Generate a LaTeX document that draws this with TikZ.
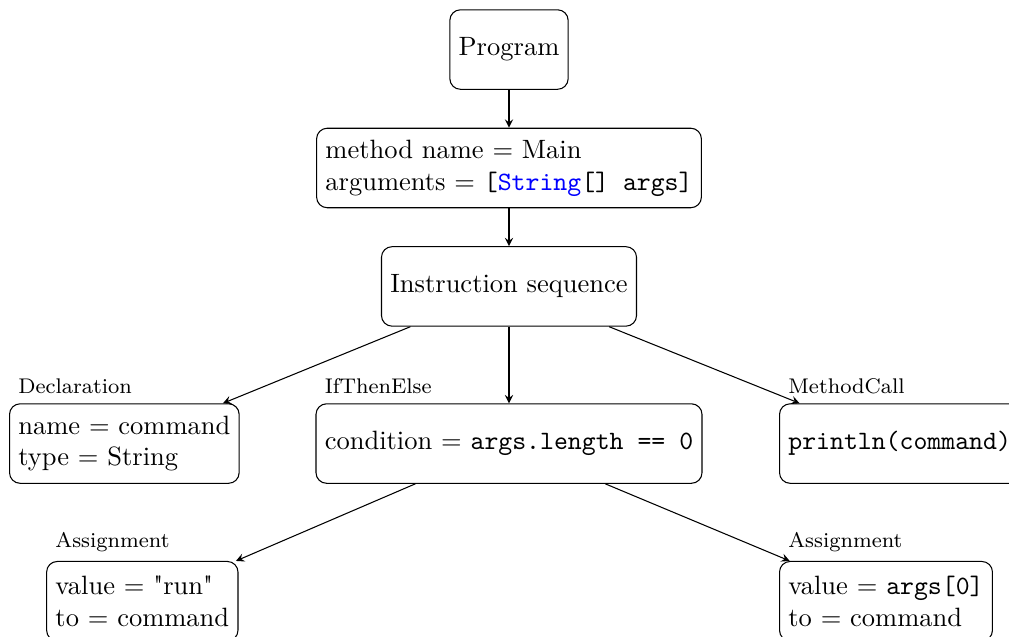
\documentclass[tikz,border=0pt]{standalone}
\usepackage{xcolor}
\usetikzlibrary{arrows}
\begin{document}
\begin{tikzpicture}[x=1pt,y=1pt,
  box/.style={draw, rounded corners=4pt, minimum height=30pt, align=left, font=\normalsize},
  tag/.style={anchor=south west, font=\footnotesize},
  conn/.style={-stealth}]
\clip (0,0) rectangle (380.8,-240.4);
\useasboundingbox (0,0) rectangle (380.8,-240.4);
\node[box] (prog) at (192.1,-18.7) {Program};
\node[box] (meth) at (192.1,-63.4) {method name = Main\\arguments = \texttt{[\textcolor{blue}{String}[] args]}};
\node[box] (seq) at (192.1,-108.1) {Instruction sequence};
\node[box, anchor=west] (decl) at (3.4,-167.4) {name = command\\type = String};
\node[box] (ite) at (192.1,-167.4) {condition = \texttt{args.length == 0}};
\node[box, anchor=west] (call) at (294,-167.4) {\texttt{println(command)}};
\node[box, anchor=north west] (asl) at (17.4,-211.7) {value = \textquotedbl run\textquotedbl\\to = command};
\node[box, anchor=north west] (asr) at (294,-211.7) {value = \texttt{args[0]}\\to = command};
\node[tag] (tdecl) at (decl.north west) {Declaration};
\node[tag] (tite) at (ite.north west) {IfThenElse};
\node[tag] (tcall) at (call.north west) {MethodCall};
\node[tag] (tasl) at (asl.north west) {Assignment};
\node[tag] (tasr) at (asr.north west) {Assignment};
\draw[conn] (prog) -- (meth);
\draw[conn] (meth) -- (seq);
\draw[conn] (seq) -- (decl);
\draw[conn] (seq) -- (ite);
\draw[conn] (seq) -- (call);
\draw[conn] (ite) -- (asl);
\draw[conn] (ite) -- (asr);
\end{tikzpicture}
\end{document}
